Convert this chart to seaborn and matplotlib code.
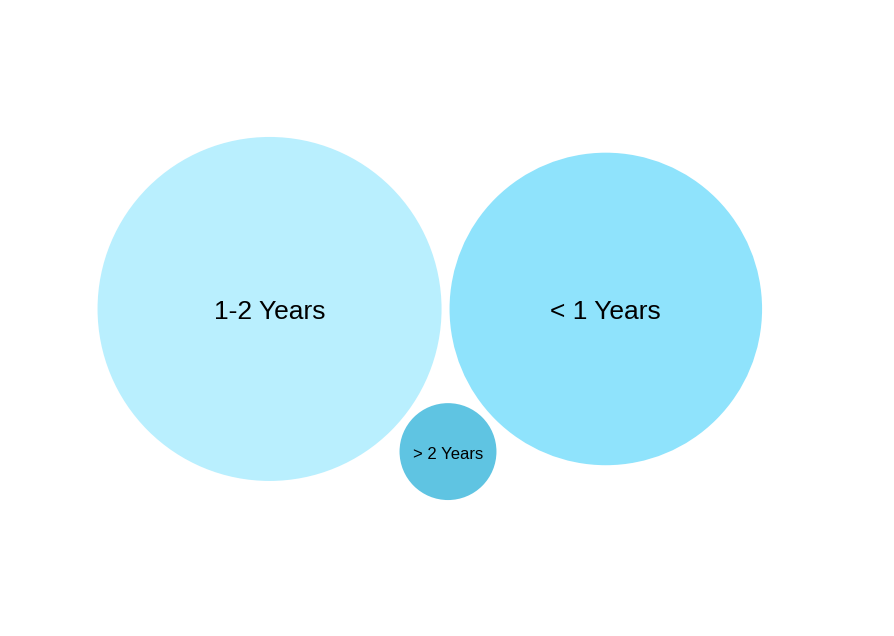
import numpy as np
import matplotlib
matplotlib.use("Agg")
import matplotlib.pyplot as plt
from matplotlib.patches import Circle
import seaborn as sns

# data
labels = ["1-2 Years", "< 1 Years", "> 2 Years"]
values = [126, 104, 10]
colors = ["#b9effe", "#8fe3fc", "#5fc4e2"]
font_sizes = [19, 19, 12]

sns.set_theme(style="white")
plt.rcParams['font.family'] = ['Liberation Sans', 'DejaVu Sans']

W, H = 895, 636
fig = plt.figure(figsize=(W / 100, H / 100), dpi=100)
ax = fig.add_axes([0, 0, 1, 1])

# radius from area, in pixel units
k = 172 / np.sqrt(values[0])
r = [k * np.sqrt(v) for v in values]
pad = 8

# simple packing: first two side by side, third tucked under both
D = r[0] + r[1] + pad
d1 = r[0] + r[2] + pad
d2 = r[1] + r[2] + pad
x3 = (d1 ** 2 - d2 ** 2 + D ** 2) / (2 * D)
y3 = np.sqrt(d1 ** 2 - x3 ** 2)
cx = np.array([0, D, x3])
cy = np.array([0, 0, y3])

# centre: small bubble in the middle horizontally, bbox centred vertically
top = min(cy[i] - r[i] for i in range(3))
bot = max(cy[i] + r[i] for i in range(3))
cx = cx - cx[2] + W / 2 + 0.5
cy = cy - (top + bot) / 2 + H / 2 + 0.5

for i in range(3):
    ax.add_patch(Circle((cx[i], cy[i]), r[i], facecolor=colors[i], edgecolor='none'))
    ax.text(cx[i], cy[i] + 3, labels[i], ha='center', va='center',
            fontsize=font_sizes[i], color='black')

ax.set_xlim(0, W)
ax.set_ylim(H, 0)
ax.set_aspect('equal')
ax.axis('off')
fig.savefig("out.png", dpi=100, facecolor='white')
